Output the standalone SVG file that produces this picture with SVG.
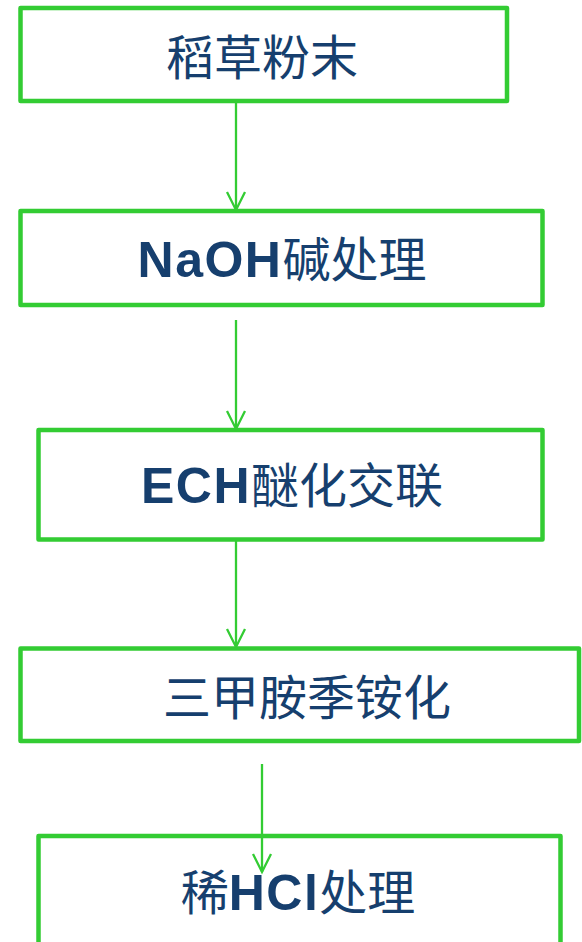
<svg xmlns="http://www.w3.org/2000/svg" width="582" height="942" viewBox="0 0 582 942">
<style>
.box{fill:#fff;stroke:#33CC33;stroke-width:4.5;stroke-linejoin:round}
.lbl{fill:#163F6E;font-size:48px;text-anchor:middle;font-family:"Noto Sans CJK SC","Liberation Sans",sans-serif}
.lat{font-family:"Liberation Sans",Arial,sans-serif;font-weight:bold;font-size:50px;letter-spacing:1.5px}
.conn line{stroke:#33CC33;stroke-width:2.3}
</style>
<defs>
<marker id="arr" markerUnits="userSpaceOnUse" markerWidth="24" markerHeight="24" viewBox="-12 -22 24 24" refX="0" refY="0" orient="auto-start-reverse" overflow="visible">
<path d="M-9,-18 L0,0 L9,-18" fill="none" stroke="#33CC33" stroke-width="2.3" stroke-linejoin="miter" transform="rotate(-90)"/>
</marker>
</defs>
<rect width="582" height="942" fill="#fff"/>
<g id="n1"><rect class="box" x="20.5" y="8" width="486.5" height="93"/><text class="lbl" x="262" y="75">稻草粉末</text></g>
<g id="n2"><rect class="box" x="20.5" y="211" width="522" height="94"/><text class="lbl" x="282" y="277"><tspan class="lat">NaOH</tspan>碱处理</text></g>
<g id="n3"><rect class="box" x="38.5" y="430" width="504" height="109.5"/><text class="lbl" x="292" y="503"><tspan class="lat">ECH</tspan>醚化交联</text></g>
<g id="n4"><rect class="box" x="20.5" y="648.5" width="558.5" height="92.5"/><text class="lbl" x="307" y="715">三甲胺季铵化</text></g>
<g id="n5"><rect class="box" x="38.5" y="836" width="522" height="130"/><text class="lbl" x="298" y="910">稀<tspan class="lat">HCl</tspan>处理</text></g>
<g id="connectors" class="conn">
<line x1="236" y1="101" x2="236" y2="210" marker-end="url(#arr)"/>
<line x1="236" y1="320" x2="236" y2="429" marker-end="url(#arr)"/>
<line x1="236" y1="540" x2="236" y2="647" marker-end="url(#arr)"/>
<line x1="262" y1="764" x2="262" y2="872" marker-end="url(#arr)"/>
</g>
</svg>
